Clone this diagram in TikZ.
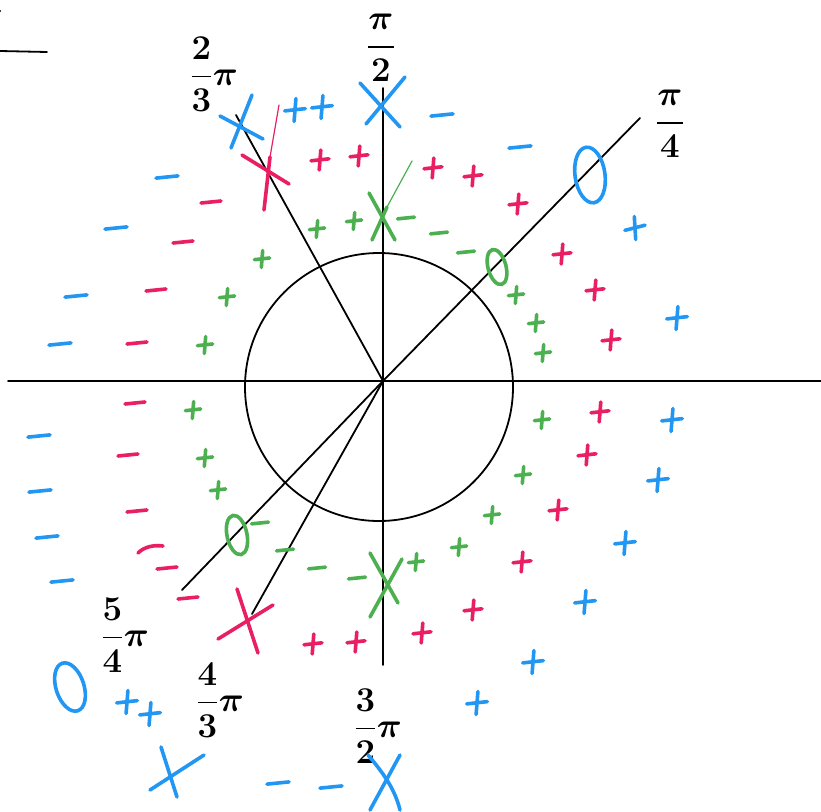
\documentclass[tikz,border=0pt]{standalone}
\usepackage{amsmath}
\definecolor{mblue}{RGB}{33,150,243}
\definecolor{mred}{RGB}{233,30,99}
\definecolor{mgreen}{RGB}{76,175,80}
\begin{document}
\begin{tikzpicture}[x=1pt,y=-1pt,
  mk/.style={line width=3.6pt,line cap=round},
  bl/.style={mk,color=mblue}, rd/.style={mk,color=mred}, gr/.style={mk,color=mgreen},
  thinmk/.style={line width=1.2pt,line cap=round},
  ax/.style={line width=1.8pt,color=black,line cap=round},
  lab/.style={font=\fontsize{24.88}{30}\selectfont\boldmath, inner sep=0pt, scale=1.4, transform shape},
  pl/.pic={\draw (-9,0.8) -- (9,-1.2); \draw (0.8,-10) -- (-0.8,10);},
  mn/.pic={\draw (-10,1) -- (10,-1);}
]
\useasboundingbox (0,0) rectangle (821,811);
% corner marks
\coordinate (c1) at (0,51); \coordinate (c2) at (47,52);
\draw[ax] (c1) -- (c2);
\fill (0,11) circle (1.2);
% axes and circle
\coordinate (O) at (383,381);
\coordinate (xl) at (8,381); \coordinate (xr) at (821,381);
\coordinate (yt) at (383,88); \coordinate (yb) at (383,665);
\draw[ax] (xl) -- (xr);
\draw[ax] (yt) -- (yb);
\node[draw, line width=1.8pt, circle, minimum size=268pt, inner sep=0pt] (circ) at (379,387) {};
\coordinate (a23) at (236,115);
\coordinate (a14) at (640,118);
\coordinate (a54) at (182,590);
\coordinate (a43) at (252,614);
\draw[ax] (O) -- (a23);
\draw[ax] (O) -- (a14);
\draw[ax] (O) -- (a54);
\draw[ax] (O) -- (a43);
% labels
\node[lab] (l23) at (214,74) {$\dfrac{2}{3}\pi$};
\node[lab] (l12) at (381,48) {$\dfrac{\pi}{2}$};
\node[lab] (l14) at (670,124) {$\dfrac{\pi}{4}$};
\node[lab] (l54) at (125,635) {$\dfrac{5}{4}\pi$};
\node[lab] (l43) at (220,700) {$\dfrac{4}{3}\pi$};
\node[lab] (l32) at (378,726) {$\dfrac{3}{2}\pi$};
% ---------- blue ----------
\foreach \p in {(295,110),(322,107),(677,318),(672,420),(658,480),(625,543),(585,602),(533,662),(477,703),(127,702),(150,714)}
  \pic[bl,scale=1.15] at \p {pl};
\pic[bl,scale=1.15,rotate=8] at (635,228) {pl};
\foreach \p in {(442,115),(520,147),(167,177),(116,228),(76,296),(60,344),(39,436),(40,491),(47,537),(62,581),(278,783),(331,787)}
  \pic[bl,scale=1.1] at \p {mn};
\draw[bl] (220,116) -- (263,139); \draw[bl] (252,95) -- (231,148);
\draw[bl] (360,83) -- (400,127); \draw[bl] (405,77) -- (366,124);
\draw[bl] (161,747) -- (177,797); \draw[bl] (150,790) -- (204,755);
\draw[bl] (368,755) .. controls (385,775) and (395,790) .. (400,810); \draw[bl] (400,755) -- (370,810);
\draw[bl] (590,175) ellipse [x radius=15, y radius=28, rotate=8];
\draw[bl] (70,687) ellipse [x radius=14, y radius=25, rotate=18];
% ---------- red ----------
\foreach \p in {(320,160),(359,156),(433,168),(473,176),(518,204),(562,254),(595,290),(611,340),(600,412),(587,455),(558,510),(522,562),(473,610),(422,633),(356,642),(313,644)}
  \pic[rd] at \p {pl};
\foreach \p in {(211,202),(183,242),(156,290),(137,343),(135,403),(128,455),(137,511),(167,568),(188,598)}
  \pic[rd] at \p {mn};
\draw[rd] (138,553) .. controls (145,546) and (155,545) .. (163,546);
\draw[thinmk,mred] (279,105) -- (270,157);
\draw[rd] (270,157) -- (264,210);
\draw[rd] (242,155) -- (289,184);
\draw[rd] (237,589) -- (258,653); \draw[rd] (218,639) -- (273,605);
% ---------- green ----------
\foreach \p in {(317,229),(354,221),(262,259),(227,297),(205,345),(516,295),(536,323),(543,353),(542,420),(523,475),(492,515),(459,547),(416,562),(193,410),(205,458),(218,490)}
  \pic[gr,scale=0.85] at \p {pl};
\foreach \p in {(406,218),(439,233),(466,252),(260,523),(285,550),(317,568),(357,578)}
  \pic[gr,scale=0.85] at \p {mn};
\draw[gr] (369,193) -- (395,240);
\draw[thinmk,mgreen] (412,161) -- (387,207);
\draw[gr] (387,207) -- (372,240);
\draw[gr] (370,553) -- (398,603); \draw[gr] (402,559) -- (370,617);
\draw[gr] (497,267) ellipse [x radius=9, y radius=18, rotate=15];
\draw[gr] (237,535) ellipse [x radius=10, y radius=20, rotate=12];
\end{tikzpicture}
\end{document}
